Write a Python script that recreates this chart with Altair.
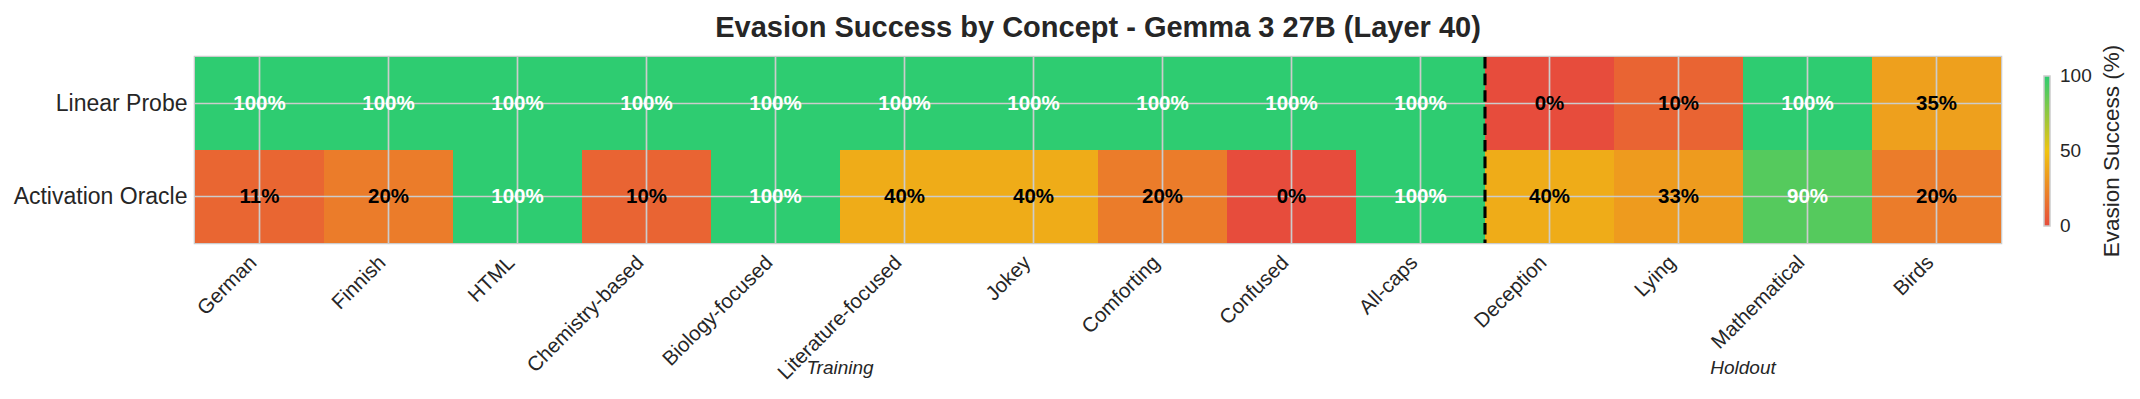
import altair as alt
import pandas as pd

concepts = ["German", "Finnish", "HTML", "Chemistry-based", "Biology-focused",
            "Literature-focused", "Jokey", "Comforting", "Confused", "All-caps",
            "Deception", "Lying", "Mathematical", "Birds"]
models = ["Linear Probe", "Activation Oracle"]
linear_probe = [100, 100, 100, 100, 100, 100, 100, 100, 100, 100, 0, 10, 100, 35]
activation_oracle = [11, 20, 100, 10, 100, 40, 40, 20, 0, 100, 40, 33, 90, 20]
groups = ["Training", "Holdout"]
group_anchor = ["Literature-focused", "Mathematical"]   # group label centred at this band's left edge
split_concept = ["Deception"]                           # dashed separator at this band's left edge
color_stops = [0, 50, 100]
color_range = ["#e74c3c", "#f1c40f", "#2ecc71"]
title_text = "Evasion Success by Concept - Gemma 3 27B (Layer 40)"
cbar_title = "Evasion Success (%)"

rows = []
for m, vals in zip(models, [linear_probe, activation_oracle]):
    for c, v in zip(concepts, vals):
        rows.append({"model": m, "concept": c, "value": v, "label": f"{v}%"})
df = pd.DataFrame(rows)

W, H = 1806, 186
FONT = "Liberation Sans"
TXT = "#262626"
CB_X, CB_Y, CB_LEN, CB_TH = 1849, 19, 150, 6
xs = alt.Scale(domain=concepts, paddingInner=0, paddingOuter=0)
ys = alt.Scale(domain=models, paddingInner=0, paddingOuter=0)

def X(field="concept", **kw):
    return alt.X(f"{field}:N", scale=xs, sort=concepts, title=None, **kw)

def Y(show_axis=False):
    if show_axis:
        return alt.Y("model:N", scale=ys, sort=models, title=None)
    return alt.Y("model:N", scale=ys, sort=models, title=None, axis=None)

rect = alt.Chart(df).mark_rect().encode(
    x=X(),
    y=Y(show_axis=True),
    color=alt.Color(
        "value:Q",
        scale=alt.Scale(domain=color_stops, range=color_range, interpolate="rgb"),
        legend=alt.Legend(
            title=None, orient="none", legendX=CB_X, legendY=CB_Y,
            direction="vertical", gradientLength=CB_LEN, gradientThickness=CB_TH,
            gradientStrokeColor="#cccccc", gradientStrokeWidth=1.5,
            values=color_stops, labelExpr="''", padding=0,
        ),
    ),
)

grid_v = alt.Chart(pd.DataFrame({"concept": concepts})).mark_rule(
    color="#cccccc", strokeWidth=1.7
).encode(x=X(), y=alt.value(0), y2=alt.value(H))

grid_h = alt.Chart(pd.DataFrame({"model": models})).mark_rule(
    color="#cccccc", strokeWidth=1.7
).encode(y=Y(), x=alt.value(0), x2=alt.value(W))

split = alt.Chart(pd.DataFrame({"concept": split_concept})).mark_rule(
    color="black", strokeWidth=3.1, strokeDash=[11.6, 5]
).encode(x=X(bandPosition=0), y=alt.value(0), y2=alt.value(H))

cell_text = alt.Chart(df).mark_text(
    font=FONT, fontSize=20.5, fontWeight="bold", baseline="middle"
).encode(
    x=X(), y=Y(), text="label:N",
    color=alt.condition(alt.datum.value > 50, alt.value("white"), alt.value("black")),
)

group_text = alt.Chart(pd.DataFrame({"anchor": group_anchor, "group": groups})).mark_text(
    font=FONT, fontSize=19, fontStyle="italic", color=TXT, baseline="middle"
).encode(x=X("anchor", bandPosition=0), y=alt.value(311), text="group:N")

title = alt.Chart(pd.DataFrame({"t": [title_text]})).mark_text(
    font=FONT, fontSize=29, fontWeight="bold", color=TXT, baseline="alphabetic", align="center"
).encode(x=alt.value(W / 2), y=alt.value(-20), text="t:N")

cbar_lbl = alt.Chart(pd.DataFrame({"t": [cbar_title]})).mark_text(
    font=FONT, fontSize=22.5, color=TXT, baseline="middle", align="center", angle=270
).encode(x=alt.value(1917), y=alt.value(94), text="t:N")

# colourbar tick labels, placed through a scale that spans the gradient
cbar_ticks = alt.Chart(pd.DataFrame({"v": color_stops})).mark_text(
    font=FONT, fontSize=19, color=TXT, baseline="middle", align="left"
).encode(
    x=alt.value(CB_X + CB_TH + 10),
    y=alt.Y("v:Q", scale=alt.Scale(domain=[0, 100], range=[CB_Y + CB_LEN, CB_Y]), axis=None, title=None),
    text=alt.Text("v:Q", format="d"),
)

chart = alt.layer(rect, grid_v, grid_h, split, cell_text, group_text, title, cbar_lbl, cbar_ticks).resolve_scale(
    y="independent"
).properties(
    width=W, height=H,
    autosize=alt.AutoSizeParams(type="none"),
    padding={"left": 187, "top": 49, "right": 131, "bottom": 140},
).configure_view(
    stroke="#cccccc", strokeWidth=2.6
).configure_axisX(
    labelFont=FONT, labelFontSize=20.5, labelColor=TXT, labelAngle=-45,
    labelAlign="right", labelBaseline="top", labelPadding=9, labelOffset=-13,
    ticks=False, domain=False, grid=False, labelLimit=400,
).configure_axisY(
    labelFont=FONT, labelFontSize=23, labelColor=TXT, labelPadding=8,
    ticks=False, domain=False, grid=False, labelLimit=400,
)

chart.save("out.html", embed_options={"renderer": "svg", "actions": False})
